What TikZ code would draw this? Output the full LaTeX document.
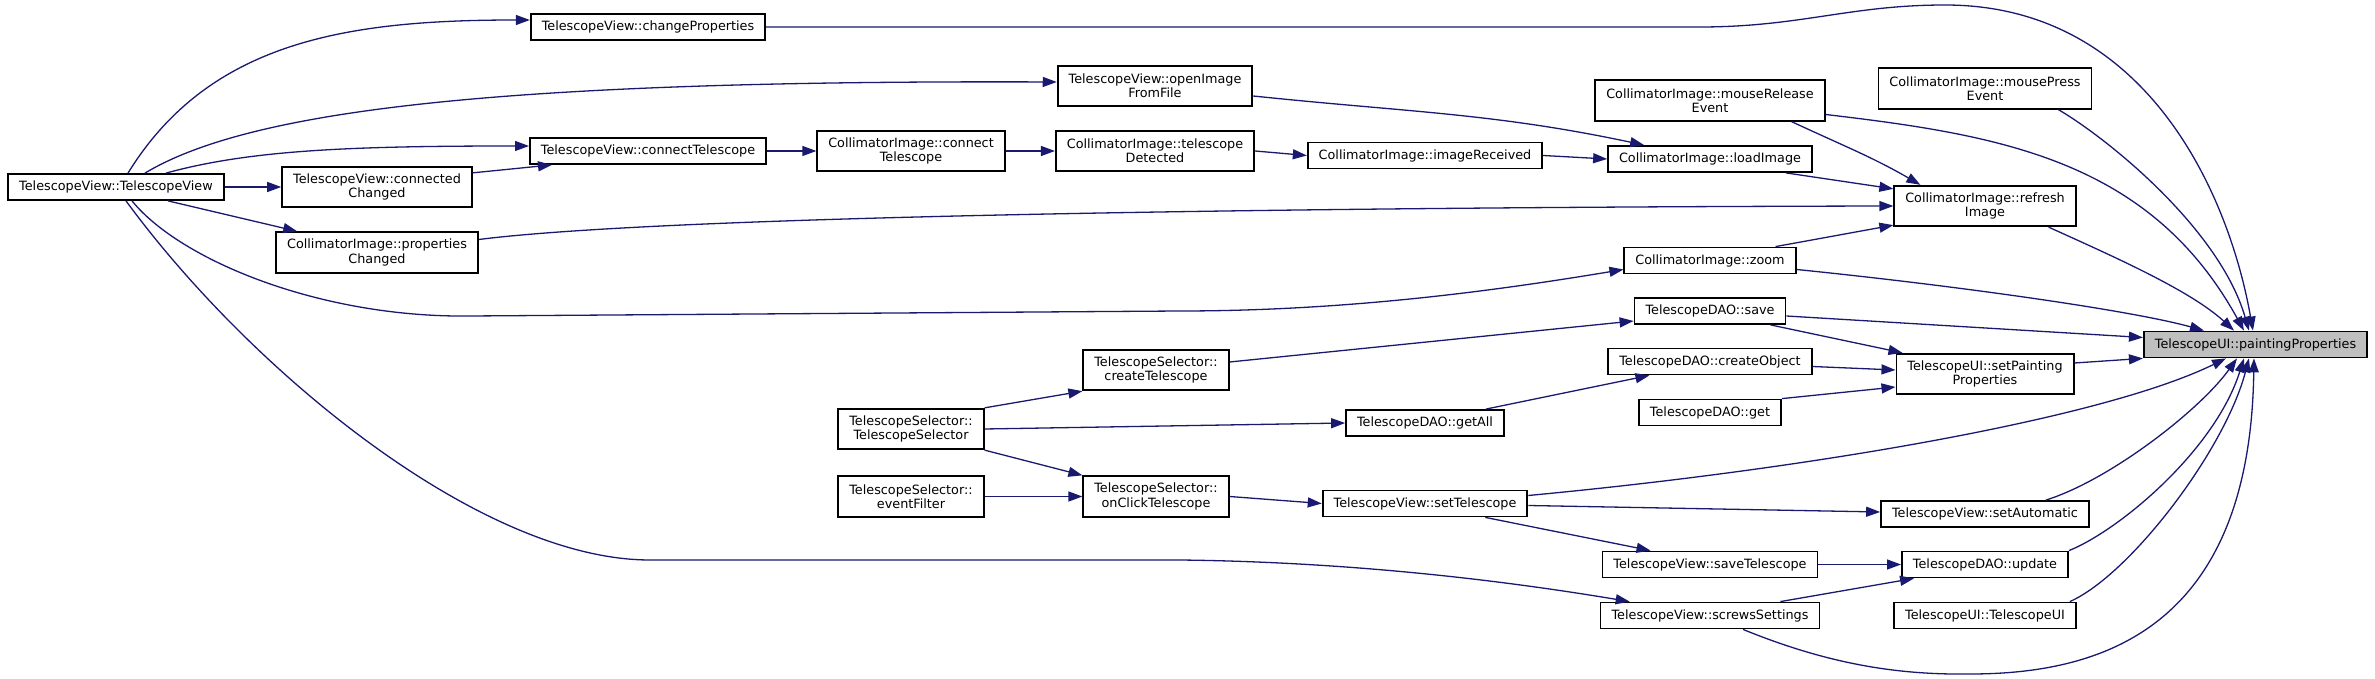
\documentclass[tikz,border=0pt]{standalone}
\usepackage{fontspec}
\setmainfont{DejaVu Sans}
\usepackage{tikz}
\usetikzlibrary{arrows.meta, positioning}
\usepackage{xcolor}
\definecolor{callblue}{HTML}{191970}
\definecolor{rootgray}{HTML}{BFBFBF}

\tikzset{
  func/.style={draw=black, fill=white, line width=0.018cm, inner xsep=0.11cm,
    inner ysep=0cm, minimum height=0.26cm, align=center,
    font=\fontsize{3.64pt}{4.07pt}\selectfont},
  func2/.style={func, minimum height=0.405cm},
  root/.style={func, fill=rootgray},
  call/.style={draw=callblue, line width=0.013cm,
    -{Triangle[length=0.14cm, width=0.1cm]}}
}

\begin{document}
\begin{tikzpicture}
  \useasboundingbox (0,0) rectangle (23.75,-6.79);

  % Functions, column by column
  \node[func] (tvCtor) at (1.16,-1.87) {TelescopeView::TelescopeView};

  \node[func2] (tvConnected) at (3.77,-1.87) {TelescopeView::connected\\Changed};
  \node[func2] (ciPropsChanged) at (3.77,-2.525) {CollimatorImage::properties\\Changed};

  \node[func] (tvChangeProps) at (6.48,-0.27) {TelescopeView::changeProperties};
  \node[func] (tvConnect) at (6.48,-1.51) {TelescopeView::connectTelescope};

  \node[func2] (ciConnect) at (9.11,-1.51) {CollimatorImage::connect\\Telescope};
  \node[func2] (tsCtor) at (9.11,-4.29) {TelescopeSelector::\\TelescopeSelector};
  \node[func2] (tsEventFilter) at (9.11,-4.965) {TelescopeSelector::\\eventFilter};

  \node[func2] (tvOpenImage) at (11.55,-0.86) {TelescopeView::openImage\\FromFile};
  \node[func2] (ciDetected) at (11.55,-1.51) {CollimatorImage::telescope\\Detected};
  \node[func2] (tsCreate) at (11.56,-3.70) {TelescopeSelector::\\createTelescope};
  \node[func2] (tsOnClick) at (11.56,-4.965) {TelescopeSelector::\\onClickTelescope};

  \node[func] (ciImageRecv) at (14.25,-1.555) {CollimatorImage::imageReceived};
  \node[func] (daoGetAll) at (14.25,-4.23) {TelescopeDAO::getAll};
  \node[func] (tvSetTelescope) at (14.25,-5.035) {TelescopeView::setTelescope};

  \node[func2] (ciMouseRelease) at (17.10,-1.005) {CollimatorImage::mouseRelease\\Event};
  \node[func] (ciLoadImage) at (17.10,-1.59) {CollimatorImage::loadImage};
  \node[func] (ciZoom) at (17.10,-2.605) {CollimatorImage::zoom};
  \node[func] (daoSave) at (17.10,-3.11) {TelescopeDAO::save};
  \node[func] (daoCreate) at (17.10,-3.615) {TelescopeDAO::createObject};
  \node[func] (daoGet) at (17.10,-4.125) {TelescopeDAO::get};
  \node[func] (tvSaveTelescope) at (17.10,-5.645) {TelescopeView::saveTelescope};
  \node[func] (tvScrews) at (17.10,-6.155) {TelescopeView::screwsSettings};

  \node[func2] (ciMousePress) at (19.85,-0.885) {CollimatorImage::mousePress\\Event};
  \node[func2] (ciRefresh) at (19.85,-2.06) {CollimatorImage::refresh\\Image};
  \node[func2] (uiSetPainting) at (19.85,-3.74) {TelescopeUI::setPainting\\Properties};
  \node[func] (tvSetAutomatic) at (19.85,-5.14) {TelescopeView::setAutomatic};
  \node[func] (daoUpdate) at (19.85,-5.645) {TelescopeDAO::update};
  \node[func] (uiCtor) at (19.85,-6.155) {TelescopeUI::TelescopeUI};

  \node[root] (uiPainting) at (22.555,-3.445) {TelescopeUI::paintingProperties};

  % Calls from the view constructor
  \draw[call] ([xshift=0.12cm]tvCtor.north) .. controls (2.1,-0.4) and (3.5,-0.2) .. ([yshift=0.07cm]tvChangeProps.west);
  \draw[call] ([xshift=0.29cm]tvCtor.north) .. controls (2.5,-1.1) and (5.0,-0.8) .. ([yshift=0.04cm]tvOpenImage.west);
  \draw[call] ([xshift=0.5cm]tvCtor.north) .. controls (2.5,-1.5) and (3.5,-1.46) .. ([yshift=0.05cm]tvConnect.west);
  \draw[call] (tvCtor.east) -- (tvConnected.west);
  \draw[call] ([xshift=0.52cm]tvCtor.south) -- ([xshift=0.22cm]ciPropsChanged.north west);
  \draw[call] ([xshift=0.16cm]tvCtor.south) .. controls (1.8,-2.6) and (3.2,-3.18) .. (4.7,-3.16)
    -- (11.8,-3.11) .. controls (13.5,-3.11) and (15.0,-2.9) .. ([yshift=-0.09cm]ciZoom.west);
  \draw[call] ([xshift=0.10cm]tvCtor.south) .. controls (2.5,-3.7) and (4.8,-5.6) .. (6.5,-5.6)
    -- (11.8,-5.6) .. controls (13.5,-5.62) and (15.0,-5.8) .. ([xshift=0.30cm]tvScrews.north west);

  % Image loading chain
  \draw[call] ([yshift=-0.07cm]tvConnected.north east) -- ([xshift=0.23cm]tvConnect.south west);
  \draw[call] (tvConnect.east) -- (ciConnect.west);
  \draw[call] (ciConnect.east) -- (ciDetected.west);
  \draw[call] (ciDetected.east) -- (ciImageRecv.west);
  \draw[call] (ciImageRecv.east) -- (ciLoadImage.west);
  \draw[call] ([yshift=-0.10cm]tvOpenImage.east) to[out=-6,in=168] ([xshift=0.37cm]ciLoadImage.north west);
  \draw[call] ([xshift=-0.27cm]ciLoadImage.south east) -- ([yshift=-0.04cm]ciRefresh.north west);
  \draw[call] ([xshift=-0.34cm]ciMouseRelease.south east) to[out=-25,in=150] ([xshift=0.27cm]ciRefresh.north west);
  \draw[call] ([yshift=0.13cm]ciPropsChanged.east) .. controls (6.8,-2.14) and (13.9,-2.07) .. (ciRefresh.west);
  \draw[call] ([xshift=-0.21cm]ciZoom.north east) -- ([yshift=0.02cm]ciRefresh.south west);

  % Selector and DAO
  \draw[call] (tsCtor.north east) -- (tsCreate.south west);
  \draw[call] (tsCtor.east) -- (daoGetAll.west);
  \draw[call] (tsCtor.south east) -- (tsOnClick.north west);
  \draw[call] (tsEventFilter.east) -- (tsOnClick.west);
  \draw[call] (tsOnClick.east) -- (tvSetTelescope.west);
  \draw[call] ([yshift=0.08cm]tsCreate.east) -- ([yshift=-0.10cm]daoSave.west);
  \draw[call] ([xshift=-0.19cm]daoGetAll.north east) -- ([xshift=0.42cm]daoCreate.south west);
  \draw[call] ([xshift=-0.16cm]daoSave.south east) -- ([xshift=0.07cm]uiSetPainting.north west);
  \draw[call] ([yshift=-0.05cm]daoCreate.east) -- ([yshift=0.04cm]uiSetPainting.west);
  \draw[call] (daoGet.north east) -- ([yshift=-0.13cm]uiSetPainting.west);
  \draw[call] ([yshift=-0.02cm]tvSetTelescope.east) -- ([yshift=0.02cm]tvSetAutomatic.west);
  \draw[call] ([xshift=-0.43cm]tvSetTelescope.south east) -- ([xshift=0.49cm]tvSaveTelescope.north west);
  \draw[call] (tvSaveTelescope.east) -- (daoUpdate.west);
  \draw[call] ([xshift=-0.40cm]tvScrews.north east) -- ([xshift=0.13cm]daoUpdate.south west);

  % Everything ends in paintingProperties
  \draw[call] (tvChangeProps.east) -- (17.0,-0.27) .. controls (18.0,-0.27) and (18.5,-0.05) .. (19.45,-0.05)
    .. controls (21.5,-0.05) and (22.3,-2.0) .. ([xshift=1.10cm]uiPainting.north west);
  \draw[call] ([yshift=-0.14cm]ciMouseRelease.east) .. controls (20.0,-1.35) and (21.5,-1.6) .. ([xshift=1.01cm]uiPainting.north west);
  \draw[call] ([xshift=-0.34cm]ciMousePress.south east) .. controls (21.1,-1.4) and (22.2,-2.3) .. ([xshift=1.06cm]uiPainting.north west);
  \draw[call] ([xshift=-0.28cm]ciRefresh.south east) .. controls (21.1,-2.55) and (21.9,-2.9) .. ([xshift=0.91cm]uiPainting.north west);
  \draw[call] ([yshift=-0.09cm]ciZoom.east) .. controls (19.5,-2.85) and (21.3,-3.1) .. ([xshift=0.61cm]uiPainting.north west);
  \draw[call] ([yshift=-0.05cm]daoSave.east) -- ([yshift=0.07cm]uiPainting.west);
  \draw[call] ([yshift=0.11cm]uiSetPainting.east) -- (uiPainting.south west);
  \draw[call] ([yshift=0.08cm]tvSetTelescope.east) .. controls (18.0,-4.7) and (21.0,-4.2) .. ([xshift=0.83cm]uiPainting.south west);
  \draw[call] ([xshift=-0.44cm]tvSetAutomatic.north east) .. controls (21.1,-4.8) and (22.0,-4.1) .. ([xshift=0.94cm]uiPainting.south west);
  \draw[call] (daoUpdate.north east) .. controls (21.2,-5.3) and (22.15,-4.5) .. ([xshift=1.01cm]uiPainting.south west);
  \draw[call] ([xshift=-0.07cm]uiCtor.north east) .. controls (21.3,-5.75) and (22.25,-4.5) .. ([xshift=1.06cm]uiPainting.south west);
  \draw[call] ([xshift=0.33cm]tvScrews.south) .. controls (18.3,-6.65) and (19.0,-6.75) .. (19.7,-6.74)
    .. controls (21.0,-6.74) and (22.5,-6.3) .. ([xshift=1.11cm]uiPainting.south west);
\end{tikzpicture}
\end{document}
